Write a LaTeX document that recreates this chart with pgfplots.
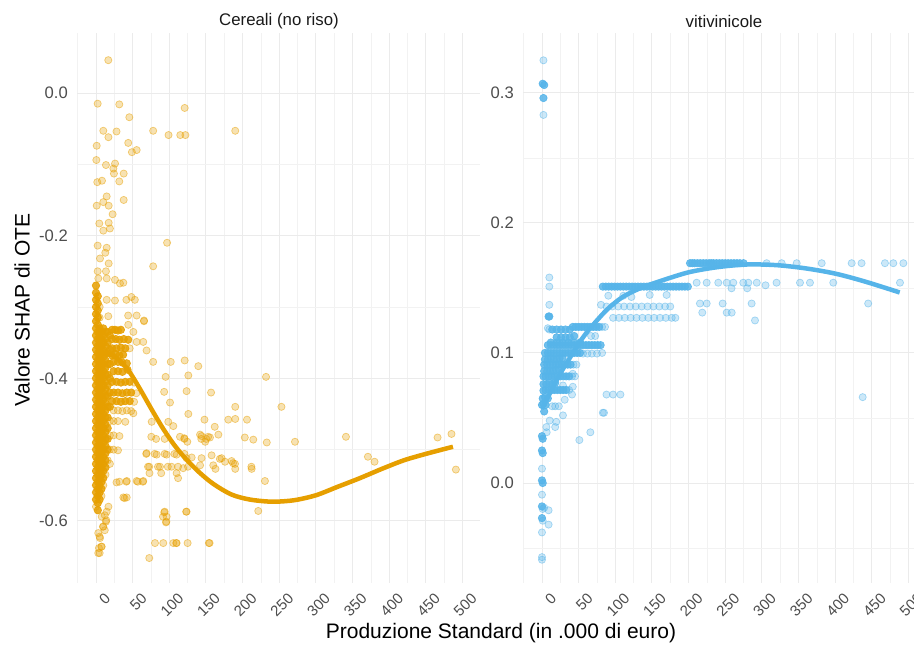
\documentclass[border=0pt]{standalone}
\usepackage{pgfplots}
\pgfplotsset{compat=1.18}
\usepackage{fontspec}
\setmainfont{Liberation Sans}
\definecolor{cer}{HTML}{E69F00}
\definecolor{viti}{HTML}{56B4E9}
\definecolor{tickc}{HTML}{4D4D4D}
\definecolor{majg}{HTML}{EBEBEB}
\definecolor{ming}{HTML}{F2F2F2}
\pgfplotsset{
  panel/.style={
    anchor=south west, scale only axis, width=403pt, height=550pt,
    xmin=-25.9, xmax=523.9,
    axis line style={draw=none},
    major tick length=0pt, minor tick length=0pt,
    xtick={0,50,100,150,200,250,300,350,400,450,500},
    xticklabels={0,50,100,150,200,250,300,350,400,450,500},
    minor xtick={-25,25,75,125,175,225,275,325,375,425,475,525},
    grid=both,
    major grid style={majg, line width=0.9pt},
    minor grid style={ming, line width=0.6pt},
    yticklabel style={font=\fontsize{16.6}{19}\selectfont, text=tickc, anchor=east, inner sep=0pt, xshift=-9pt},
    xticklabel style={font=\fontsize{15}{18}\selectfont, text=tickc, rotate=45, anchor=north east, inner sep=0pt, yshift=-12pt, xshift=-1pt},
    clip=false,
  },
  pts/.style={only marks, mark=*, mark size=3.6pt,
    mark options={draw=#1, fill=#1, fill opacity=0.3, draw opacity=0.5, line width=0.7pt}},
  dense/.style={only marks, mark=*, mark size=3.7pt,
    mark options={draw=#1, fill=#1, fill opacity=0.85, draw opacity=0.9, line width=0.7pt}},
  fit/.style={no marks, smooth, line width=4.5pt, color=#1},
}
\begin{document}
\begin{tikzpicture}
\useasboundingbox (0,0) rectangle (914pt,649pt);
% ---------------- Left panel ----------------
\begin{axis}[panel, at={(77pt,66pt)},
  ymin=-0.687, ymax=0.0841,
  ytick={-0.6,-0.4,-0.2,0}, yticklabels={-0.6,-0.4,-0.2,0.0},
  minor ytick={-0.5,-0.3,-0.1}]
\addplot[fit=cer] coordinates {
(0,-0.368)(15,-0.365)(30,-0.373)(45,-0.390)(60,-0.415)(75,-0.442)(90,-0.468)(105,-0.491)
(120,-0.510)(140,-0.531)(160,-0.548)(185,-0.563)(210,-0.570)(240,-0.573)(270,-0.571)
(300,-0.564)(330,-0.552)(360,-0.540)(390,-0.527)(420,-0.515)(450,-0.506)(487,-0.496)
};
\addplot[dense=cer] coordinates {
(0,-0.270)(0,-0.280)(0,-0.290)(0,-0.300)(0,-0.310)(0,-0.320)(0,-0.330)(0,-0.340)(0,-0.350)(0,-0.360)(0,-0.370)(0,-0.380)(0,-0.390)(0,-0.400)(0,-0.410)(0,-0.420)(0,-0.430)(0,-0.440)(0,-0.450)(0,-0.460)(0,-0.470)(0,-0.480)(0,-0.490)(0,-0.500)(0,-0.510)(0,-0.520)(0,-0.530)(0,-0.540)(0,-0.550)(0,-0.560)(0,-0.570)
(2.5,-0.285)(2.5,-0.295)(2.5,-0.305)(2.5,-0.315)(2.5,-0.325)(2.5,-0.335)(2.5,-0.345)(2.5,-0.355)(2.5,-0.365)(2.5,-0.375)(2.5,-0.385)(2.5,-0.395)(2.5,-0.405)(2.5,-0.415)(2.5,-0.425)(2.5,-0.435)(2.5,-0.445)(2.5,-0.455)(2.5,-0.465)(2.5,-0.475)(2.5,-0.485)(2.5,-0.495)(2.5,-0.505)(2.5,-0.515)(2.5,-0.525)(2.5,-0.535)(2.5,-0.545)(2.5,-0.555)(2.5,-0.565)(2.5,-0.575)(2.5,-0.585)
(5,-0.330)(5,-0.340)(5,-0.350)(5,-0.360)(5,-0.370)(5,-0.380)(5,-0.390)(5,-0.400)(5,-0.410)(5,-0.420)(5,-0.430)(5,-0.440)(5,-0.450)(5,-0.460)(5,-0.470)(5,-0.480)(5,-0.490)(5,-0.500)(5,-0.510)(5,-0.520)(5,-0.530)(5,-0.540)(5,-0.550)(5,-0.560)(5,-0.570)
(7.5,-0.335)(7.5,-0.345)(7.5,-0.355)(7.5,-0.365)(7.5,-0.375)(7.5,-0.385)(7.5,-0.395)(7.5,-0.405)(7.5,-0.415)(7.5,-0.425)(7.5,-0.435)(7.5,-0.445)(7.5,-0.455)(7.5,-0.465)(7.5,-0.475)(7.5,-0.485)(7.5,-0.495)(7.5,-0.505)(7.5,-0.515)(7.5,-0.525)(7.5,-0.535)(7.5,-0.545)(7.5,-0.555)
(10,-0.330)(10,-0.340)(10,-0.350)(10,-0.360)(10,-0.370)(10,-0.380)(10,-0.390)(10,-0.400)(10,-0.410)(10,-0.420)(10,-0.430)(10,-0.440)(10,-0.450)(10,-0.460)(10,-0.470)(10,-0.480)(10,-0.490)(10,-0.500)(10,-0.510)(10,-0.520)(10,-0.530)(10,-0.540)
(13,-0.335)(13,-0.345)(13,-0.355)(13,-0.365)(13,-0.375)(13,-0.385)(13,-0.395)(13,-0.405)(13,-0.415)(13,-0.425)(13,-0.435)(13,-0.445)(13,-0.455)(13,-0.465)(13,-0.475)(13,-0.485)(13,-0.495)(13,-0.505)(13,-0.515)(13,-0.525)
(16,-0.335)(16,-0.350)(16,-0.365)(16,-0.380)(16,-0.395)(16,-0.410)(16,-0.425)(16,-0.440)(16,-0.455)(16,-0.470)(16,-0.485)(16,-0.500)
(19,-0.340)(19,-0.360)(19,-0.380)(19,-0.400)(19,-0.420)(19,-0.440)
(22,-0.332)(26,-0.332)(30,-0.333)(34,-0.332)
(22,-0.345)(27,-0.345)(32,-0.346)(38,-0.345)(44,-0.346)
(22,-0.358)(28,-0.358)(34,-0.357)(40,-0.358)
(22,-0.368)(27,-0.366)(32,-0.368)(37,-0.367)
(24,-0.377)(30,-0.377)(36,-0.378)(42,-0.379)
(24,-0.390)(30,-0.390)(36,-0.391)(43,-0.388)
(22,-0.405)(28,-0.405)(34,-0.406)(40,-0.405)(46,-0.405)
(24,-0.420)(30,-0.420)(36,-0.421)(42,-0.420)(48,-0.420)
(22,-0.432)(28,-0.432)(34,-0.433)(40,-0.432)(46,-0.432)
};
\addplot[pts=cer] coordinates {
(0,-0.580)(5,-0.300)(5,-0.315)(7.5,-0.565)(10,-0.550)(13,-0.535)(16,-0.515)
(19,-0.460)(19,-0.480)(19,-0.500)(19,-0.520)
(46,-0.358)(52,-0.406)(55,-0.421)(52,-0.433)
(24,-0.445)(30,-0.445)(36,-0.446)(42,-0.445)(48,-0.446)
(24,-0.460)(30,-0.460)(40,-0.461)
(24,-0.480)(32,-0.481)
(24,-0.500)(30,-0.501)
(12,-0.592)(14,-0.599)(9.5,-0.608)(12,-0.613)(5,-0.622)(7.3,-0.636)(5,-0.645)(17,-0.580)
};
\addplot[pts=cer] coordinates {
(16.8,0.046)(2.3,-0.015)(31.8,-0.016)(121,-0.021)(45.5,-0.034)(10,-0.053)(28,-0.054)(17,-0.062)
(78,-0.053)(99,-0.059)(115,-0.059)(122,-0.059)(190,-0.053)(1,-0.074)(44,-0.070)(49,-0.083)
(55.5,-0.080)(0.5,-0.094)(13.6,-0.101)(26,-0.099)(23.7,-0.106)(24.5,-0.113)(37.8,-0.113)
(1.8,-0.125)(8.2,-0.123)(31.8,-0.124)(14.6,-0.145)(37.8,-0.150)(1,-0.158)(10,-0.153)(17.3,-0.158)
(22.7,-0.170)(4.5,-0.183)(17.3,-0.182)(10,-0.193)(19,-0.190)(97,-0.210)(2.3,-0.214)(14.6,-0.217)
(12.7,-0.224)(5.5,-0.232)(17.3,-0.239)(78,-0.243)(2.3,-0.250)(13.6,-0.250)(3.2,-0.260)(14.6,-0.260)
(25.9,-0.262)(32.7,-0.267)(37.3,-0.266)(14.6,-0.290)(25.9,-0.291)(41.5,-0.290)(48.3,-0.286)(53,-0.290)
(2.3,-0.313)(16.8,-0.313)(43.9,-0.312)(55.5,-0.312)(65.5,-0.319)(44,-0.325)(65.5,-0.320)(51,-0.335)
(55.5,-0.349)(64.5,-0.349)(69,-0.361)(78,-0.377)(102,-0.377)(121,-0.375)(139.6,-0.383)(95,-0.398)
(126,-0.396)(232,-0.398)(93,-0.419)(123.6,-0.418)(157,-0.420)(101,-0.434)(190,-0.440)(253,-0.440)
(126,-0.450)(51,-0.449)(148,-0.458)(180.5,-0.458)(190,-0.457)(206,-0.458)(76,-0.461)(98.6,-0.461)
(105.5,-0.467)(162,-0.468)(167,-0.479)(142,-0.479)(153,-0.482)(149,-0.489)(120.5,-0.484)(114.6,-0.482)
(203,-0.483)(214.6,-0.486)(233,-0.490)(271.5,-0.489)(341,-0.482)(466,-0.483)(485,-0.478)(371,-0.510)
(380,-0.517)(491,-0.528)(69,-0.505)(82.8,-0.507)(96.4,-0.507)(110,-0.507)(123.6,-0.512)(144,-0.512)
(157.7,-0.508)(171.4,-0.512)(187,-0.519)(189.6,-0.520)(212,-0.524)(72.7,-0.524)(87.3,-0.524)(103,-0.524)
(110,-0.533)(119,-0.526)(230.5,-0.544)(28,-0.546)(42,-0.544)(55.5,-0.544)(64.5,-0.544)(37.3,-0.567)
(41.9,-0.567)(123.6,-0.587)(221.4,-0.586)(93.2,-0.588)(96.4,-0.594)(95.5,-0.602)(80.5,-0.631)(91.8,-0.631)
(105.5,-0.631)(110,-0.631)(125,-0.631)(154,-0.631)(72.7,-0.652)(3.1,-0.617)(5.5,-0.624)(4,-0.638)
(7.8,-0.636)(3.1,-0.645)(10,-0.608)(13.6,-0.601)(7.8,-0.594)(14.6,-0.587)
(124.6,-0.489)(144,-0.481)(155.5,-0.483)(130.5,-0.511)(169,-0.513)(176,-0.517)(185,-0.516)
(142,-0.522)(160,-0.522)(163,-0.527)(190,-0.527)(212.4,-0.527)
(75.5,-0.482)(82,-0.485)(93.7,-0.485)(120.7,-0.485)(143.7,-0.485)(150.5,-0.485)
(68.6,-0.506)(80,-0.506)(93.7,-0.506)(107,-0.506)(120.7,-0.506)
(71,-0.524)(84.6,-0.524)(98,-0.524)(112,-0.524)(125.5,-0.524)
(73,-0.533)(89,-0.533)(112,-0.540)(32,-0.545)(41.4,-0.545)(57,-0.545)(64,-0.545)(39,-0.568)
(93.7,-0.587)(91.4,-0.594)(96,-0.601)(123,-0.587)(109.5,-0.631)(155,-0.631)
};
\end{axis}
% ---------------- Right panel ----------------
\begin{axis}[panel, at={(523pt,66pt)},
  ymin=-0.0769, ymax=0.346,
  ytick={0,0.1,0.2,0.3}, yticklabels={0.0,0.1,0.2,0.3},
  minor ytick={-0.05,0.05,0.15,0.25}]
\addplot[fit=viti] coordinates {
(0,0.057)(10,0.068)(20,0.079)(30,0.089)(40,0.098)(50,0.107)(60,0.115)(75,0.125)(90,0.134)
(110,0.143)(135,0.150)(160,0.155)(200,0.162)(240,0.166)(280,0.168)(320,0.1675)(360,0.165)
(400,0.161)(440,0.155)(488,0.1465)
};
\addplot[pts=viti] coordinates {
(2,0.325)(2,0.283)
(10,0.158)(10,0.151)(10,0.137)(10,0.118)(8,0.119)
(0,0.011)(0,-0.009)(1,-0.020)(3,-0.019)(1,-0.029)(0,-0.038)(9,-0.021)(9,-0.032)(0,-0.057)(0,-0.059)
(51,0.033)(66,0.039)(84.6,0.054)(83,0.054)(28.6,0.052)(18,0.043)(10.5,0.048)(6.4,0.039)(19.5,0.047)(6,0.043)
(88,0.068)(97,0.068)(107,0.068)(437.5,0.066)(290.6,0.125)(14,0.059)(18,0.059)(23,0.059)(31,0.064)
(41,0.068)(42,0.074)(42,0.084)(28.6,0.075)
(56,0.0995)(62,0.0995)(68,0.0995)(75,0.0995)(82,0.100)(67,0.113)(72.6,0.113)(82,0.120)(86,0.120)
(37,0.0715)(41,0.082)(45,0.082)(43,0.091)(47,0.091)
(80.5,0.137)(88,0.1357)(96,0.1357)(104,0.1357)(112,0.1357)(120,0.1357)(128,0.1357)(136,0.1357)(144,0.1357)(152,0.1357)(160,0.1357)(168,0.1357)(175,0.1357)
(97,0.127)(105,0.127)(113,0.127)(121,0.127)(129,0.127)(137,0.127)(145,0.127)(153,0.127)(161,0.127)(169,0.127)(177,0.127)(182,0.127)
(306.5,0.169)(327,0.169)(347.5,0.169)(381.6,0.169)(422.5,0.169)(436,0.169)(467.9,0.169)(479.3,0.169)(493,0.169)
(211,0.154)(224.7,0.154)(240.5,0.154)(252,0.154)(261,0.154)(274.6,0.154)(281.5,0.154)(293,0.154)(320,0.154)(352,0.154)(365.6,0.154)(397.4,0.154)(488.4,0.154)
(305,0.152)(258.6,0.1497)(280,0.1497)
(215.5,0.138)(224.7,0.138)(246.5,0.138)(286,0.138)(445,0.138)(218.7,0.131)(252,0.131)(258.8,0.131)
(90.5,0.144)(111,0.144)(122,0.143)(147,0.1446)(170,0.1446)
};
\addplot[dense=viti] coordinates {
(1,0.307)(3,0.306)(2,0.296)(9,0.128)(10,0.128)
(0,0.036)(1,0.034)(0,0.025)(1,0.023)(0,0.002)(1,0.000)(0,-0.018)(0,-0.027)
(0,0.060)(2,0.061)(5,0.060)(3,0.055)(1,0.065)(4,0.066)(8,0.065)
(2,0.071)(5,0.0715)(9,0.0715)(13,0.0715)(17,0.0715)(21,0.0715)(25,0.0715)(29,0.0715)(33,0.0715)
(2,0.076)(6,0.076)(10,0.077)(14,0.076)(18,0.077)
(2,0.082)(5,0.082)(9,0.082)(13,0.082)(17,0.082)(21,0.082)(25,0.082)(29,0.082)(33,0.082)(37,0.082)
(3,0.086)(7,0.086)(11,0.086)(15,0.086)(19,0.087)(23,0.087)
(3,0.091)(7,0.091)(11,0.091)(15,0.091)(19,0.091)(23,0.091)(27,0.091)(31,0.091)(35,0.091)(39,0.091)
(4,0.095)(8,0.095)(12,0.096)(16,0.095)(20,0.095)(24,0.096)(28,0.096)
(4,0.100)(8,0.100)(12,0.100)(16,0.100)(20,0.100)(24,0.100)(28,0.100)(32,0.100)(36,0.100)(40,0.100)(44,0.100)(48,0.100)(52,0.100)
(8,0.106)(12,0.106)(16,0.106)(20,0.106)(24,0.106)(28,0.106)(32,0.106)(36,0.106)(40,0.106)(44,0.106)(48,0.106)(52,0.106)(56,0.106)(60,0.106)(64,0.106)(68,0.106)(72,0.106)(76,0.106)(80,0.106)
(12,0.108)(20,0.108)(28,0.108)(36,0.108)(44,0.108)(52,0.108)
(20,0.112)(26,0.112)(32,0.112)(38,0.112)(44,0.113)
(14,0.118)(20,0.118)(26,0.118)(32,0.118)(38,0.118)
(42,0.120)(46,0.120)(50,0.120)(54,0.120)(58,0.120)(62,0.120)(66,0.120)(70,0.120)(74,0.120)(78,0.120)
(83,0.151)(87,0.151)(91,0.151)(95,0.151)(99,0.151)(103,0.151)(107,0.151)(111,0.151)(115,0.151)(119,0.151)(123,0.151)(127,0.151)(131,0.151)(135,0.151)(139,0.151)
(143,0.151)(147,0.151)(151,0.151)(155,0.151)(159,0.151)(163,0.151)(167,0.151)(171,0.151)(175,0.151)(179,0.151)(183,0.151)(187,0.151)(191,0.151)(195,0.151)(199,0.151)
(202,0.169)(205,0.169)(208,0.169)(212,0.169)(216,0.169)(220,0.169)(224,0.169)(228,0.169)(231,0.169)(234,0.169)(238,0.169)(242,0.169)(246,0.169)
(250,0.169)(254,0.169)(258,0.169)(262,0.169)(266,0.169)(270,0.169)(275,0.169)
};
\end{axis}
\node[font=\fontsize{16.8}{19}\selectfont, text={black!90}] at (279pt,628pt) {Cereali (no riso)};
\node[font=\fontsize{16.8}{19}\selectfont, text={black!90}] at (724pt,628pt) {vitivinicole};
\node[font=\fontsize{21}{24}\selectfont] at (501pt,16pt) {Produzione Standard (in .000 di euro)};
\node[font=\fontsize{21}{24}\selectfont, rotate=90] at (22pt,339pt) {Valore SHAP di OTE};
\end{tikzpicture}
\end{document}
